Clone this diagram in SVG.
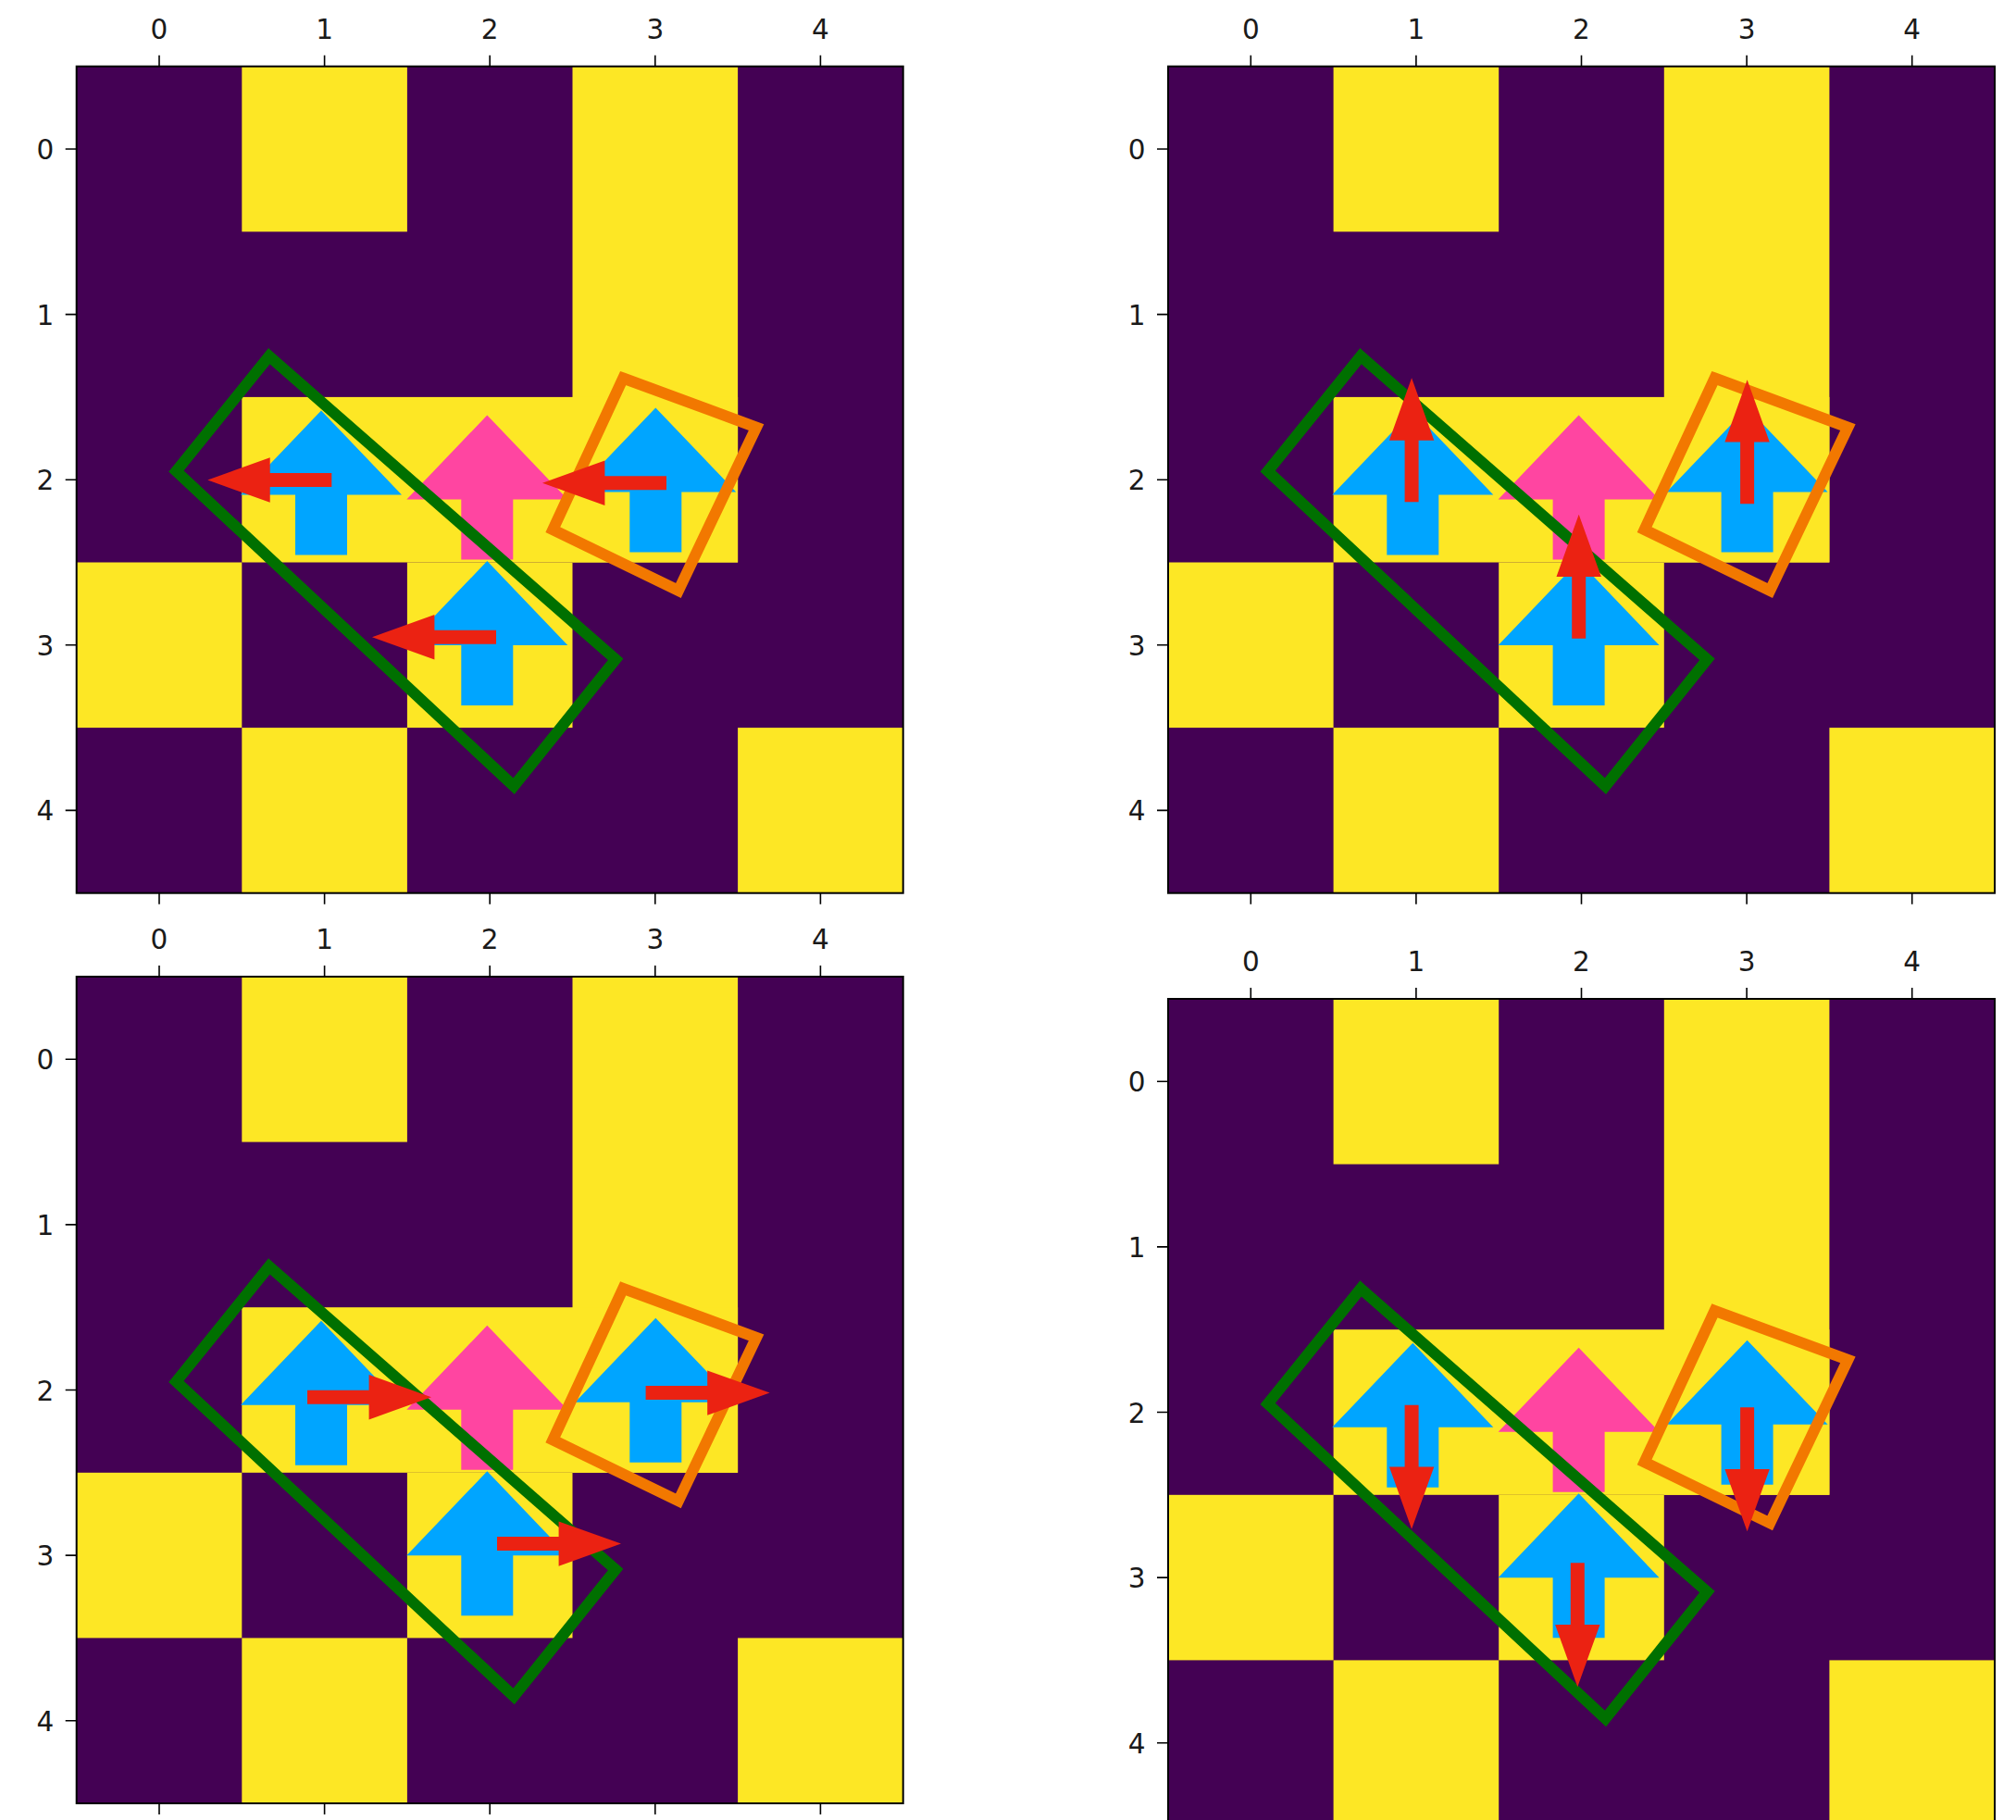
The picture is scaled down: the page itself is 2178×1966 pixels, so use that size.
<svg xmlns="http://www.w3.org/2000/svg" xmlns:xlink="http://www.w3.org/1999/xlink" width="2178" height="1966" viewBox="0 0 2178 1966">
<style>
.lbl{font-family:"DejaVu Sans",sans-serif;font-size:29.5px;fill:#1a1a1a}
.top{text-anchor:middle}
.left{text-anchor:end}
.y{fill:#fde725}
.tick{stroke:#000;stroke-width:1.6;fill:none}
.blue{fill:#00a5ff}
.pink{fill:#ff45a1}
.red{fill:#eb2212}
</style>
<defs>
<path id="ua" d="M0,0L87,91H28V156H-28V91H-87Z"/>
<path id="ra" class="red" d="M0,-7.5H66.6V-24.2L134,0L66.6,24.2V7.5H0Z"/>
<g id="board">
<rect x="82.7" y="71.7" width="893" height="893" fill="#440154"/>
<rect class="y" x="261.3" y="71.7" width="178.6" height="178.6"/>
<rect class="y" x="618.5" y="71.7" width="178.6" height="535.8"/>
<rect class="y" x="261.3" y="428.9" width="535.8" height="178.6"/>
<rect class="y" x="82.7" y="607.5" width="178.6" height="178.6"/>
<rect class="y" x="439.9" y="607.5" width="178.6" height="178.6"/>
<rect class="y" x="261.3" y="786.1" width="178.6" height="178.6"/>
<rect class="y" x="797.1" y="786.1" width="178.6" height="178.6"/>
<path class="tick" d="M172,59.7V71.7M350.6,59.7V71.7M529.2,59.7V71.7M707.8,59.7V71.7M886.4,59.7V71.7M172,964.7V976.7M350.6,964.7V976.7M529.2,964.7V976.7M707.8,964.7V976.7M886.4,964.7V976.7M70.7,161H82.7M70.7,339.6H82.7M70.7,518.2H82.7M70.7,696.8H82.7M70.7,875.4H82.7"/>
<rect x="82.7" y="71.7" width="893" height="893" fill="none" stroke="#000" stroke-width="2"/>
<use xlink:href="#ua" href="#ua" class="blue" transform="translate(347,443.5)"/>
<use xlink:href="#ua" href="#ua" class="blue" transform="translate(708.3,440.5)"/>
<use xlink:href="#ua" href="#ua" class="blue" transform="translate(526.3,606)"/>
<use xlink:href="#ua" href="#ua" class="pink" transform="translate(526.3,448.5)"/>
<polygon points="290.8,384.7 665.1,712.3 555.1,849.2 190.4,509" fill="none" stroke="#007000" stroke-width="12"/>
<polygon points="673.2,408.5 817.1,461.5 732.9,638 597.3,572.1" fill="none" stroke="#f27800" stroke-width="12"/>
</g>
</defs>
<rect width="2178" height="1966" fill="#fff"/>

<g id="panel-top-left">
<use xlink:href="#board" href="#board"/>
<use xlink:href="#ra" href="#ra" transform="translate(358.3,518.5) rotate(180)"/>
<use xlink:href="#ra" href="#ra" transform="translate(536,688.2) rotate(180)"/>
<use xlink:href="#ra" href="#ra" transform="translate(720,521.7) rotate(180)"/>
<text class="lbl top" x="172" y="41.7">0</text>
<text class="lbl top" x="350.6" y="41.7">1</text>
<text class="lbl top" x="529.2" y="41.7">2</text>
<text class="lbl top" x="707.8" y="41.7">3</text>
<text class="lbl top" x="886.4" y="41.7">4</text>
<text class="lbl left" x="58.2" y="172">0</text>
<text class="lbl left" x="58.2" y="350.6">1</text>
<text class="lbl left" x="58.2" y="529.2">2</text>
<text class="lbl left" x="58.2" y="707.8">3</text>
<text class="lbl left" x="58.2" y="886.4">4</text>
</g>

<g id="panel-top-right">
<use xlink:href="#board" href="#board" transform="translate(1179.3,0)"/>
<use xlink:href="#ra" href="#ra" transform="translate(1525.1,542.3) rotate(-90)"/>
<use xlink:href="#ra" href="#ra" transform="translate(1705.7,689.7) rotate(-90)"/>
<use xlink:href="#ra" href="#ra" transform="translate(1887.6,544.2) rotate(-90)"/>
<text class="lbl top" x="1351.3" y="41.7">0</text>
<text class="lbl top" x="1529.9" y="41.7">1</text>
<text class="lbl top" x="1708.5" y="41.7">2</text>
<text class="lbl top" x="1887.1" y="41.7">3</text>
<text class="lbl top" x="2065.7" y="41.7">4</text>
<text class="lbl left" x="1237.5" y="172">0</text>
<text class="lbl left" x="1237.5" y="350.6">1</text>
<text class="lbl left" x="1237.5" y="529.2">2</text>
<text class="lbl left" x="1237.5" y="707.8">3</text>
<text class="lbl left" x="1237.5" y="886.4">4</text>
</g>

<g id="panel-bottom-left">
<use xlink:href="#board" href="#board" transform="translate(0,983.3)"/>
<use xlink:href="#ra" href="#ra" transform="translate(332,1509.2)"/>
<use xlink:href="#ra" href="#ra" transform="translate(697.6,1504.6)"/>
<use xlink:href="#ra" href="#ra" transform="translate(537,1667.6)"/>
<text class="lbl top" x="172" y="1025">0</text>
<text class="lbl top" x="350.6" y="1025">1</text>
<text class="lbl top" x="529.2" y="1025">2</text>
<text class="lbl top" x="707.8" y="1025">3</text>
<text class="lbl top" x="886.4" y="1025">4</text>
<text class="lbl left" x="58.2" y="1155.3">0</text>
<text class="lbl left" x="58.2" y="1333.9">1</text>
<text class="lbl left" x="58.2" y="1512.5">2</text>
<text class="lbl left" x="58.2" y="1691.1">3</text>
<text class="lbl left" x="58.2" y="1869.7">4</text>
</g>

<g id="panel-bottom-right">
<use xlink:href="#board" href="#board" transform="translate(1179.3,1007.3)"/>
<use xlink:href="#ra" href="#ra" transform="translate(1525.1,1517.8) rotate(90)"/>
<use xlink:href="#ra" href="#ra" transform="translate(1704.3,1688.3) rotate(90)"/>
<use xlink:href="#ra" href="#ra" transform="translate(1887.6,1520.3) rotate(90)"/>
<text class="lbl top" x="1351.3" y="1049">0</text>
<text class="lbl top" x="1529.9" y="1049">1</text>
<text class="lbl top" x="1708.5" y="1049">2</text>
<text class="lbl top" x="1887.1" y="1049">3</text>
<text class="lbl top" x="2065.7" y="1049">4</text>
<text class="lbl left" x="1237.5" y="1179.3">0</text>
<text class="lbl left" x="1237.5" y="1357.9">1</text>
<text class="lbl left" x="1237.5" y="1536.5">2</text>
<text class="lbl left" x="1237.5" y="1715.1">3</text>
<text class="lbl left" x="1237.5" y="1893.7">4</text>
</g>
</svg>
